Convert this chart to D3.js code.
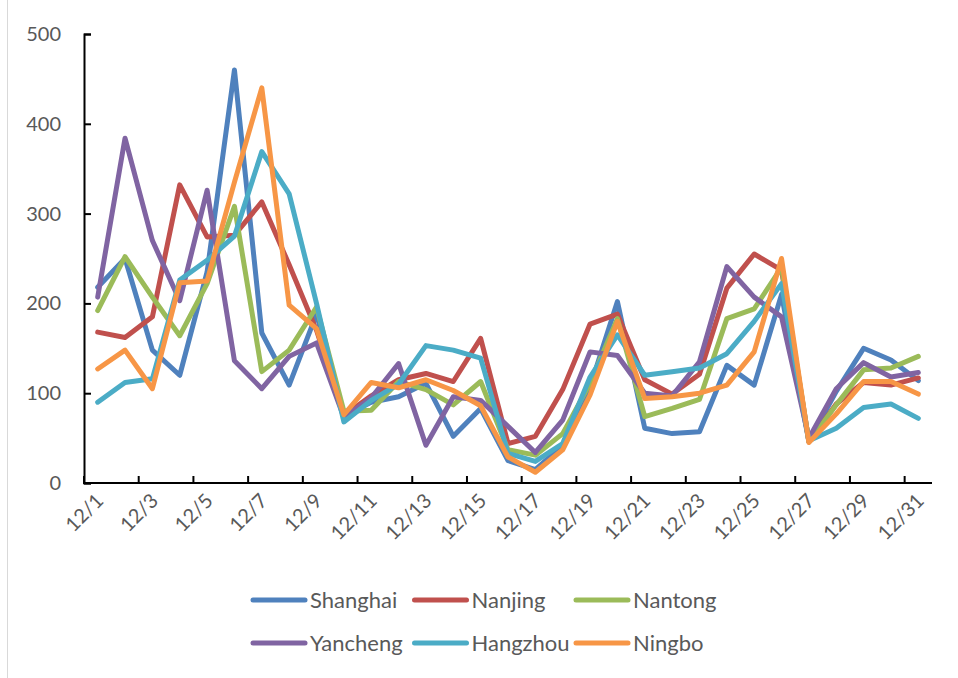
<!DOCTYPE html>
<html>
<head>
<meta charset="utf-8">
<script src="https://cdn.jsdelivr.net/npm/d3@7"></script>
<style>
  html, body { margin: 0; padding: 0; background: #fff; }
  svg { display: block; }
  text { font-family: Lato, "Open Sans", sans-serif; fill: #595959; }
</style>
</head>
<body>
<svg id="chart" width="958" height="678"></svg>
<script>
// Daily values for December, one array per city
const days = d3.range(1, 32).map(d => "12/" + d);
const shanghai = [218, 250, 148, 120, 235, 460, 167, 109, 188, 75, 90, 96, 111, 52, 83, 25, 15, 42, 107, 202, 61, 55, 57, 131, 109, 210, 46, 102, 150, 137, 114];
const nanjing  = [168, 162, 185, 332, 274, 276, 313, 243, 170, 75, 97, 115, 122, 113, 161, 44, 52, 104, 177, 188, 115, 99, 121, 217, 255, 237, 46, 88, 112, 109, 117];
const nantong  = [192, 252, 207, 164, 222, 308, 124, 148, 196, 80, 81, 113, 104, 87, 113, 37, 31, 55, 111, 183, 74, 83, 93, 183, 194, 240, 46, 87, 126, 128, 141];
const yancheng = [207, 384, 270, 203, 326, 136, 105, 141, 156, 73, 95, 133, 42, 96, 92, 63, 34, 70, 146, 142, 100, 97, 135, 241, 207, 185, 50, 105, 134, 118, 123];
const hangzhou = [90, 112, 116, 226, 248, 275, 369, 322, 200, 68, 92, 110, 153, 148, 139, 33, 24, 44, 118, 165, 120, 124, 128, 144, 180, 222, 47, 61, 84, 88, 72];
const ningbo   = [127, 148, 105, 223, 225, 335, 440, 198, 172, 76, 112, 106, 115, 103, 86, 29, 12, 37, 98, 180, 94, 96, 100, 109, 146, 250, 45, 77, 113, 113, 99];
const yTicks = [0, 100, 200, 300, 400, 500];

const series = [
  { name: "Shanghai", values: shanghai, color: "#4F81BD" },
  { name: "Nanjing",  values: nanjing,  color: "#C0504D" },
  { name: "Nantong",  values: nantong,  color: "#9BBB59" },
  { name: "Yancheng", values: yancheng, color: "#8064A2" },
  { name: "Hangzhou", values: hangzhou, color: "#4BACC6" },
  { name: "Ningbo",   values: ningbo,   color: "#F79646" }
];

const svg = d3.select("#chart");
const plot = { left: 84, right: 932, top: 34, bottom: 483 };

// chart-area edge on the left
svg.append("line")
  .attr("x1", 7.5).attr("x2", 7.5).attr("y1", 0).attr("y2", 678)
  .attr("stroke", "#d9d9d9").attr("stroke-width", 1);

const x = d3.scaleBand().domain(days).range([plot.left, plot.right]).paddingInner(0).paddingOuter(0);
const y = d3.scaleLinear().domain([0, 500]).range([plot.bottom, plot.top]);

// y axis: ticks point into the plot
const yAxis = svg.append("g").attr("transform", `translate(${plot.left},0)`)
  .call(d3.axisRight(y).tickValues(yTicks).tickSize(7).tickFormat(""));
yAxis.select(".domain").attr("stroke", "#000").attr("stroke-width", 2);
yAxis.selectAll(".tick line").attr("stroke", "#000").attr("stroke-width", 2);

svg.append("g").selectAll("text").data(yTicks).join("text")
  .attr("x", 61).attr("y", d => y(d)).attr("dy", "0.35em")
  .attr("text-anchor", "end").attr("font-size", 20)
  .text(d => d);

// x axis: tick marks every two days between categories
const xTickPos = d3.range(0, 32, 2).map(i => plot.left + i * x.step());
const xAxis = svg.append("g");
xAxis.append("line")
  .attr("x1", plot.left - 1).attr("x2", plot.right)
  .attr("y1", plot.bottom).attr("y2", plot.bottom)
  .attr("stroke", "#000").attr("stroke-width", 2);
xAxis.selectAll("line.tk").data(xTickPos).join("line").attr("class", "tk")
  .attr("x1", d => d).attr("x2", d => d)
  .attr("y1", plot.bottom).attr("y2", plot.bottom - 7)
  .attr("stroke", "#000").attr("stroke-width", 2);

const labelDays = days.filter((d, i) => i % 2 === 0);
svg.append("g").selectAll("text").data(labelDays).join("text")
  .attr("transform", d => `translate(${x(d) + x.bandwidth() / 2 + 7},${plot.bottom + 19}) rotate(-45)`)
  .attr("text-anchor", "end").attr("font-size", 20)
  .text(d => d);

// city lines
const line = d3.line()
  .x((v, i) => x(days[i]) + x.bandwidth() / 2)
  .y(v => y(v));

svg.append("g").selectAll("path").data(series).join("path")
  .attr("d", s => line(s.values))
  .attr("fill", "none")
  .attr("stroke", s => s.color)
  .attr("stroke-width", 5)
  .attr("stroke-linejoin", "round")
  .attr("stroke-linecap", "round");

// legend, two rows of three
const legend = svg.append("g");
const items = legend.selectAll("g").data(series).join("g")
  .attr("transform", (s, i) => `translate(${253 + (i % 3) * 161.5},${600 + Math.floor(i / 3) * 43})`);
items.append("line")
  .attr("x1", 0).attr("x2", 52).attr("y1", 0).attr("y2", 0)
  .attr("stroke", s => s.color).attr("stroke-width", 5).attr("stroke-linecap", "round");
items.append("text")
  .attr("x", 57).attr("y", 0).attr("dy", "0.35em")
  .attr("font-size", 22)
  .text(s => s.name);
</script>
</body>
</html>
